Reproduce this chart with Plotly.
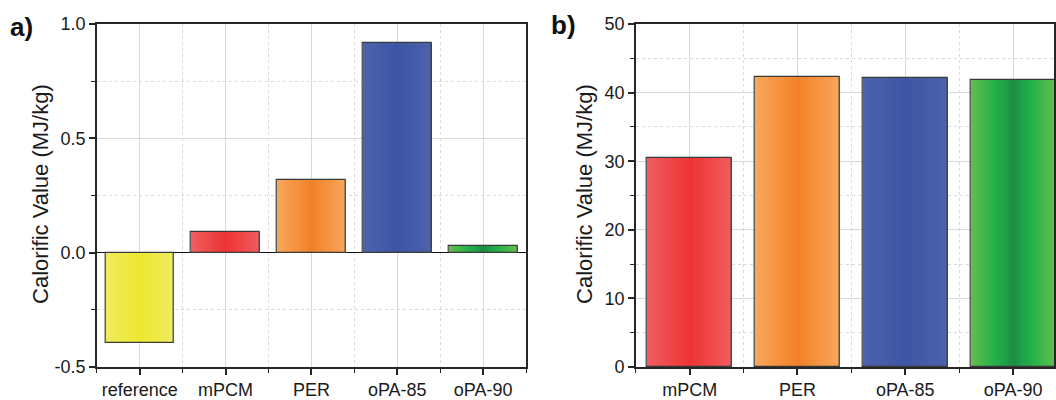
import plotly.graph_objects as go

# ---- data ----
cats_a = ["reference", "mPCM", "PER", "oPA-85", "oPA-90"]
vals_a = [-0.393, 0.089, 0.317, 0.919, 0.029]
cats_b = ["mPCM", "PER", "oPA-85", "oPA-90"]
vals_b = [30.5, 42.3, 42.17, 41.83]
ytick_a = [-0.5, 0.0, 0.5, 1.0]
ytick_b = [0, 10, 20, 30, 40, 50]

# ---- styling ----
W, H = 1056, 400
FONT = "Liberation Sans, Arial, sans-serif"
TXT = "#1a1a1a"
GRID = "#d9d9d9"
AXC = "#262626"
MT, MB = 24, 29
PH = H - MT - MB

# color profiles: (distance from centre as fraction of half-width, rgb)
profiles = {
    "reference": [(0.0, (237, 231, 44)), (1.0, (240, 236, 96))],
    "mPCM": [(0.0, (237, 50, 50)), (1.0, (241, 92, 96))],
    "PER": [(0.0, (242, 128, 38)), (1.0, (248, 166, 90))],
    "oPA-85": [(0.0, (60, 84, 164)), (1.0, (76, 98, 172))],
    "oPA-90": [(0.0, (28, 135, 66)), (0.22, (30, 160, 72)), (0.45, (34, 176, 74)), (1.0, (98, 190, 78))],
}


def prof_color(cat, d):
    stops = profiles[cat]
    for (d0, c0), (d1, c1) in zip(stops[:-1], stops[1:]):
        if d <= d1:
            t = (d - d0) / (d1 - d0) if d1 > d0 else 0
            c = [round(a + (b - a) * t) for a, b in zip(c0, c1)]
            return "rgb(%d,%d,%d)" % tuple(c)
    return "rgb(%d,%d,%d)" % stops[-1][1]


fig = go.Figure()
K = 16


def add_bars(cats, vals, bw, xa, ya):
    xs = list(range(len(cats)))
    for k in range(K):
        frac = 1 - k / K
        fig.add_trace(go.Bar(
            x=xs, y=vals, width=bw * frac,
            marker=dict(color=[prof_color(c, frac) for c in cats], line=dict(width=0)),
            xaxis=xa, yaxis=ya, showlegend=False, hoverinfo="skip"))
    fig.add_trace(go.Bar(
        x=xs, y=vals, width=bw,
        marker=dict(color="rgba(0,0,0,0)", line=dict(color="#3a3a3a", width=1.2)),
        xaxis=xa, yaxis=ya, showlegend=False,
        hovertext=cats, hoverinfo="text+y"))


add_bars(cats_a, vals_a, 0.8, "x", "y")
add_bars(cats_b, vals_b, 0.79, "x2", "y2")

tickfont = dict(family=FONT, size=18, color=TXT)


def xaxis_cfg(cats, domain, rng):
    n = len(cats)
    return dict(
        domain=domain, range=rng, tickmode="array", tickvals=list(range(n)), ticktext=cats,
        ticks="outside", ticklen=6, tickwidth=1.5, tickcolor=AXC,
        showline=True, linecolor=AXC, linewidth=1.5, mirror=True,
        showgrid=True, gridcolor=GRID, gridwidth=1, zeroline=False,
        tickfont=tickfont, fixedrange=True,
        minor=dict(tickvals=[i + 0.5 for i in range(-1, n)], ticks="outside", ticklen=4,
                   tickwidth=1.2, tickcolor=AXC, showgrid=True, gridcolor=GRID,
                   griddash="dot", gridwidth=1),
    )


def yaxis_cfg(rng, tickvals, fmt, dminor, zl, anchor):
    return dict(
        range=rng, tickmode="array", tickvals=tickvals,
        ticktext=[fmt % v for v in tickvals],
        ticks="outside", ticklen=6, tickwidth=1.5, tickcolor=AXC,
        showline=True, linecolor=AXC, linewidth=1.5, mirror=True,
        showgrid=True, gridcolor=GRID, gridwidth=1,
        zeroline=zl, zerolinecolor="#111111", zerolinewidth=1.3,
        tickfont=tickfont, anchor=anchor, fixedrange=True,
        minor=dict(dtick=dminor, tick0=0, ticks="outside", ticklen=4, tickwidth=1.2,
                   tickcolor=AXC, showgrid=True, gridcolor=GRID, griddash="dot", gridwidth=1),
    )


fig.update_layout(
    width=W, height=H, barmode="overlay",
    paper_bgcolor="white", plot_bgcolor="white",
    margin=dict(l=0, r=0, t=MT, b=MB),
    font=dict(family=FONT, color=TXT),
    xaxis=xaxis_cfg(cats_a, [97 / W, 527 / W], [-0.5, 4.5]),
    yaxis=yaxis_cfg([-0.5, 1.0], ytick_a, "%.1f", 0.25, True, "x"),
    xaxis2=xaxis_cfg(cats_b, [637 / W, 1.0], [-0.5, 3.38]),
    yaxis2=yaxis_cfg([0, 50], ytick_b, "%d", 5, False, "x2"),
    bargap=0,
)
fig.layout.xaxis2.anchor = "y2"
fig.layout.xaxis.anchor = "y"

ply = lambda py: (H - MB - py) / float(PH)
fig.add_annotation(text="Calorific Value (MJ/kg)", textangle=-90, xref="paper", yref="paper",
                   x=40 / W, y=ply(196), xanchor="center", yanchor="middle", showarrow=False,
                   font=dict(family=FONT, size=22, color=TXT))
fig.add_annotation(text="Calorific Value (MJ/kg)", textangle=-90, xref="paper", yref="paper",
                   x=585 / W, y=ply(196), xanchor="center", yanchor="middle", showarrow=False,
                   font=dict(family=FONT, size=22, color=TXT))
fig.add_annotation(text="<b>a)</b>", xref="paper", yref="paper", x=22 / W, y=ply(27),
                   xanchor="center", yanchor="middle", showarrow=False,
                   font=dict(family=FONT, size=26, color="#111111"))
fig.add_annotation(text="<b>b)</b>", xref="paper", yref="paper", x=565 / W, y=ply(25),
                   xanchor="center", yanchor="middle", showarrow=False,
                   font=dict(family=FONT, size=26, color="#111111"))

fig.write_html("out.html", config={"displayModeBar": False},
               post_script="document.body.style.margin='0';document.body.style.overflow='hidden';")
